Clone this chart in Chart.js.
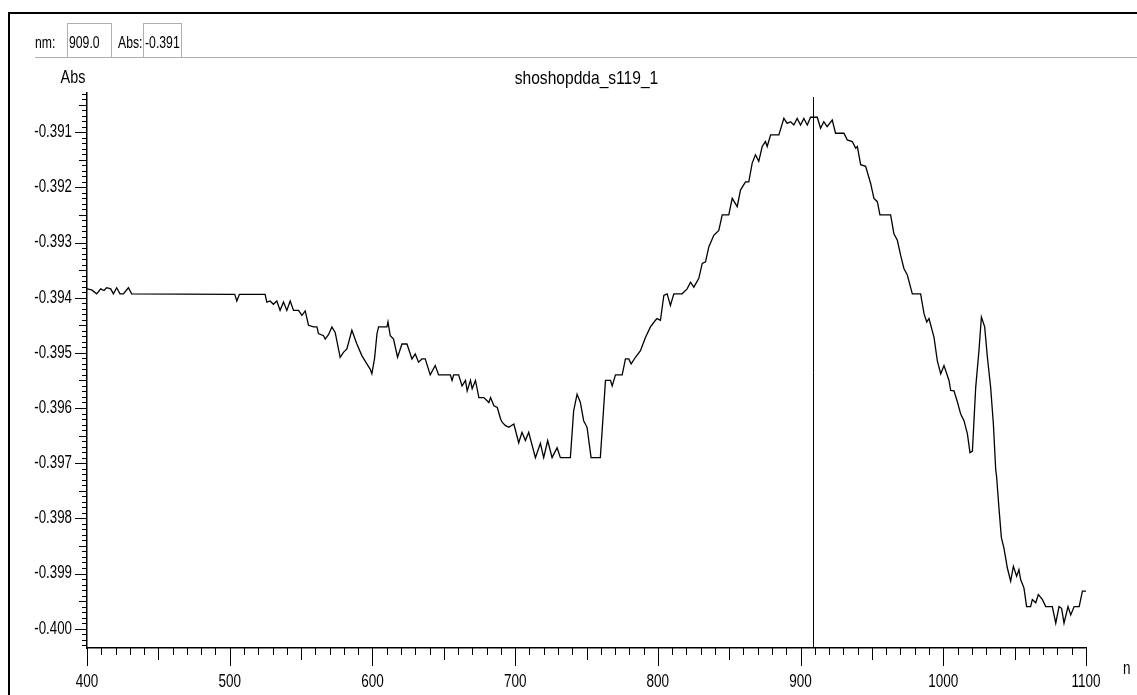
<!DOCTYPE html>
<html>
<head>
<meta charset="utf-8">
<script src="https://cdn.jsdelivr.net/npm/chart.js@4.4.1/dist/chart.umd.min.js"></script>
<style>
  body { margin: 0; background: #fff; }
  #wrap { position: relative; width: 1137px; height: 695px; overflow: hidden; background: #fff; }
  #spectrum { position: absolute; left: 0; top: 0; }
  .frame { position: absolute; left: 8px; top: 12px; width: 1200px; height: 800px; border-left: 2px solid #000; border-top: 2px solid #000; }
  .hline { position: absolute; left: 35px; top: 57px; width: 1110px; border-top: 1px solid #b4a8c6; }
  .box { position: absolute; top: 23px; height: 34px; border: 1px solid #b4a8c6; border-bottom: none; }
  .lbl { position: absolute; top: 33px; font: 17px "Liberation Sans", Arial, sans-serif; color: #000; line-height: 20px;
         white-space: nowrap; transform: scaleX(0.72); transform-origin: 0 0; }
</style>
</head>
<body>
<div id="wrap">
  <canvas id="spectrum" width="1137" height="695"></canvas>
  <div class="frame"></div>
  <div class="hline"></div>
  <div class="box" style="left:67px;width:43px"></div>
  <div class="box" style="left:143px;width:37px"></div>
  <div class="lbl" style="left:35px">nm:</div>
  <div class="lbl" id="nmValue" style="left:69px"></div>
  <div class="lbl" style="left:118px">Abs:</div>
  <div class="lbl" id="absValue" style="left:145px"></div>
</div>
<script>
const sampleName = "shoshopdda_s119_1";
const cursorNm = 909.0;
const cursorAbs = -0.391;

const wavelengthNm = [
  400.0, 403.3, 406.8, 409.6, 411.9, 413.8, 416.6, 418.5, 420.8, 423.1, 425.5, 429.0, 431.3,
  503.5, 505.0, 506.8, 524.8,
  526.0, 528.3, 530.6, 533.0, 535.3, 537.7, 540.0, 542.4, 544.7, 548.2, 550.6, 552.9, 555.2,
  558.7, 561.1, 562.2, 565.7, 566.9, 569.2, 571.6, 573.9, 577.4, 579.7, 582.1, 585.6, 589.1,
  592.6, 596.1, 598.5, 599.6, 601.5, 603.2, 604.3, 610.2, 610.9, 612.5, 614.8, 617.6, 620.7,
  624.2, 627.7, 630.0, 632.3, 634.7, 637.0, 640.5, 644.0, 646.4, 654.6, 655.8, 656.9, 660.4,
  662.8, 665.2, 666.4, 668.7, 669.9, 672.2, 674.6, 678.1, 681.6, 682.8, 685.1, 687.5, 689.8,
  691.0, 693.3, 695.6, 699.1, 702.5, 704.8, 707.2, 709.5, 714.2, 717.7, 720.0, 722.8, 725.9,
  729.4, 731.7, 738.7, 741.0, 743.4, 745.7, 748.0, 750.4, 753.2, 759.7, 763.3, 766.8, 768.0,
  770.3, 775.0, 777.3, 779.6, 781.3, 784.3, 787.8, 791.3, 794.8, 798.3, 799.5, 801.8, 804.2,
  806.5, 808.8, 811.2, 817.0, 820.5, 822.9, 825.2, 828.7, 831.1, 833.4, 835.7, 839.2, 842.7,
  845.1, 849.7, 852.1, 855.6, 857.9, 861.4, 863.7, 866.1, 868.4, 870.7, 873.1, 875.4, 876.6,
  879.0, 884.8, 888.3, 890.6, 893.0, 895.3, 897.6, 900.0, 902.3, 904.7, 907.0, 911.7, 914.0,
  916.3, 918.6, 922.2, 924.5, 930.4, 932.7, 936.2, 938.6, 939.8, 942.1, 945.6, 949.1, 951.4,
  953.8, 955.6, 963.1, 965.4, 967.8, 970.1, 972.4, 974.8, 978.3, 984.1, 986.5, 988.4, 990.0,
  993.5, 995.8, 998.2, 1000.5, 1004.0, 1005.2, 1007.5, 1010.0, 1012.2, 1014.5, 1016.9, 1018.7,
  1020.4, 1022.7, 1025.0, 1026.7, 1029.0, 1030.9, 1033.2, 1035.1, 1036.7, 1037.4, 1039.0,
  1040.7, 1042.5, 1044.9, 1047.2, 1049.1, 1051.4, 1053.0, 1054.2, 1056.5, 1058.4, 1061.2,
  1062.4, 1064.8, 1066.6, 1069.4, 1071.8, 1076.4, 1078.8, 1081.1, 1082.9, 1084.6, 1087.4,
  1089.3, 1091.7, 1095.2, 1097.5, 1100.0
];

const absorbance = [
  -0.39384, -0.39386, -0.39393, -0.39384, -0.39387, -0.39382, -0.39384, -0.39393, -0.39382, -0.39393, -0.39393, -0.39382, -0.39393,
  -0.39394, -0.39406, -0.39394, -0.39394,
  -0.39408, -0.39406, -0.39412, -0.39406, -0.39423, -0.39408, -0.39423, -0.39406, -0.39423, -0.39423, -0.39432, -0.39424, -0.39450,
  -0.39453, -0.39453, -0.39465, -0.39469, -0.39475, -0.39467, -0.39453, -0.39463, -0.39508, -0.39499, -0.39493, -0.39459, -0.39484,
  -0.39505, -0.39520, -0.39530, -0.39538, -0.39510, -0.39465, -0.39453, -0.39453, -0.39444, -0.39469, -0.39475, -0.39508, -0.39484,
  -0.39484, -0.39511, -0.39502, -0.39517, -0.39511, -0.39511, -0.39540, -0.39523, -0.39540, -0.39540, -0.39550, -0.39540, -0.39540,
  -0.39560, -0.39550, -0.39569, -0.39550, -0.39565, -0.39550, -0.39581, -0.39581, -0.39590, -0.39581, -0.39596, -0.39599, -0.39620,
  -0.39626, -0.39632, -0.39635, -0.39629, -0.39663, -0.39644, -0.39659, -0.39644, -0.39690, -0.39664, -0.39690, -0.39659, -0.39690,
  -0.39672, -0.39690, -0.39690, -0.39605, -0.39575, -0.39590, -0.39623, -0.39635, -0.39690, -0.39690, -0.39550, -0.39550, -0.39560,
  -0.39540, -0.39540, -0.39511, -0.39511, -0.39520, -0.39508, -0.39496, -0.39472, -0.39453, -0.39441, -0.39438, -0.39441, -0.39396,
  -0.39393, -0.39414, -0.39393, -0.39393, -0.39384, -0.39372, -0.39381, -0.39365, -0.39338, -0.39335, -0.39308, -0.39287, -0.39278,
  -0.39250, -0.39250, -0.39220, -0.39235, -0.39205, -0.39190, -0.39190, -0.39156, -0.39141, -0.39153, -0.39126, -0.39117, -0.39126,
  -0.39105, -0.39105, -0.39075, -0.39084, -0.39081, -0.39087, -0.39075, -0.39087, -0.39075, -0.39087, -0.39073, -0.39073, -0.39093,
  -0.39081, -0.39090, -0.39078, -0.39102, -0.39102, -0.39114, -0.39117, -0.39129, -0.39126, -0.39159, -0.39162, -0.39193, -0.39220,
  -0.39226, -0.39250, -0.39250, -0.39284, -0.39296, -0.39323, -0.39347, -0.39359, -0.39393, -0.39393, -0.39429, -0.39444, -0.39438,
  -0.39472, -0.39514, -0.39538, -0.39523, -0.39550, -0.39568, -0.39569, -0.39590, -0.39611, -0.39623, -0.39647, -0.39681,
  -0.39678, -0.39563, -0.39496, -0.39435, -0.39453, -0.39508, -0.39563, -0.39629, -0.39710, -0.39726, -0.39781,
  -0.39835, -0.39854, -0.39890, -0.39914, -0.39887, -0.39905, -0.39893, -0.39911, -0.39926, -0.39960, -0.39960,
  -0.39947, -0.39953, -0.39938, -0.39947, -0.39960, -0.39960, -0.39990, -0.39960, -0.39963, -0.39990, -0.39960,
  -0.39975, -0.39960, -0.39960, -0.39932, -0.39932
];

// labelled ticks; minor ticks are 10 per major step
const xMajorTicks = [400, 500, 600, 700, 800, 900, 1000, 1100];
const yMajorTicks = [-0.400, -0.399, -0.398, -0.397, -0.396, -0.395, -0.394, -0.393, -0.392, -0.391];

const FONT = '"Liberation Sans", Arial, sans-serif';

document.getElementById("nmValue").textContent = cursorNm.toFixed(1);
document.getElementById("absValue").textContent = cursorAbs.toFixed(3);

// x: every 10 nm; y: every 0.0001 (kept as integers of 1e-4 to avoid drift)
const xTicks = [];
for (let v = xMajorTicks[0]; v <= xMajorTicks[xMajorTicks.length - 1]; v += 10) xTicks.push(v);
const yTickUnits = [];
for (let k = -4003; k <= -3903; k++) yTickUnits.push(k);

const isMajorY = (v) => Math.abs(v * 1000 - Math.round(v * 1000)) < 1e-6;
const isMidY = (v) => Math.abs(v * 2000 - Math.round(v * 2000)) < 1e-6;

// the original uses a tall, narrow system font
function narrowText(ctx, text, x, y, align, size, sx) {
  ctx.save();
  ctx.translate(x, y);
  ctx.scale(sx, 1);
  ctx.font = size + "px " + FONT;
  ctx.textAlign = align;
  ctx.textBaseline = "middle";
  ctx.fillText(text, 0, 0);
  ctx.restore();
}

const axisDecor = {
  id: "axisDecor",
  afterDraw(chart) {
    const { ctx, chartArea, scales } = chart;
    ctx.save();
    ctx.strokeStyle = "#000";
    ctx.fillStyle = "#000";
    ctx.lineWidth = 1;
    ctx.beginPath();
    xTicks.forEach((v) => {
      const len = v % 100 === 0 ? 18 : v % 50 === 0 ? 12 : 7;
      const px = Math.round(scales.x.getPixelForValue(v)) + 0.5;
      ctx.moveTo(px, chartArea.bottom);
      ctx.lineTo(px, chartArea.bottom + len);
    });
    yTickUnits.forEach((k) => {
      const v = k / 10000;
      const len = isMajorY(v) ? 12 : isMidY(v) ? 8 : 5;
      const py = Math.round(scales.y.getPixelForValue(v)) + 0.5;
      ctx.moveTo(chartArea.left, py);
      ctx.lineTo(chartArea.left - len, py);
    });
    ctx.stroke();

    // cursor line at the readout wavelength
    const cx = Math.round(scales.x.getPixelForValue(cursorNm)) + 0.5;
    ctx.beginPath();
    ctx.moveTo(cx, chartArea.top + 4);
    ctx.lineTo(cx, chartArea.bottom);
    ctx.stroke();

    xMajorTicks.forEach((v) => {
      narrowText(ctx, String(v), scales.x.getPixelForValue(v), 682, "center", 18, 0.75);
    });
    yMajorTicks.forEach((v) => {
      narrowText(ctx, v.toFixed(3), 72, scales.y.getPixelForValue(v), "right", 18, 0.74);
    });

    narrowText(ctx, sampleName, (chartArea.left + chartArea.right) / 2, 79, "center", 19, 0.82);
    narrowText(ctx, "Abs", 73, 78, "center", 18, 0.8);
    ctx.beginPath();
    ctx.rect(0, 0, 1131, 695);
    ctx.clip();
    narrowText(ctx, "nm", 1123, 669, "left", 18, 0.75);
    ctx.restore();
  }
};

new Chart(document.getElementById("spectrum"), {
  type: "line",
  data: {
    datasets: [{
      data: wavelengthNm.map((x, i) => ({ x, y: absorbance[i] })),
      borderColor: "#000",
      borderWidth: 1.3,
      pointRadius: 0,
      tension: 0,
      fill: false
    }]
  },
  options: {
    responsive: false,
    animation: false,
    layout: { padding: { left: 8, top: 93, right: 51, bottom: 0 } },
    plugins: { legend: { display: false }, tooltip: { enabled: false } },
    scales: {
      x: {
        type: "linear",
        min: 400,
        max: 1100,
        afterFit: (s) => { s.height = 47; },
        grid: { display: false },
        border: { color: "#000", width: 1.5 },
        ticks: { display: false }
      },
      y: {
        type: "linear",
        min: -0.40035,
        max: -0.39029,
        afterFit: (s) => { s.width = 79; },
        grid: { display: false },
        border: { color: "#000", width: 1.5 },
        ticks: { display: false }
      }
    }
  },
  plugins: [axisDecor]
});
</script>
</body>
</html>
